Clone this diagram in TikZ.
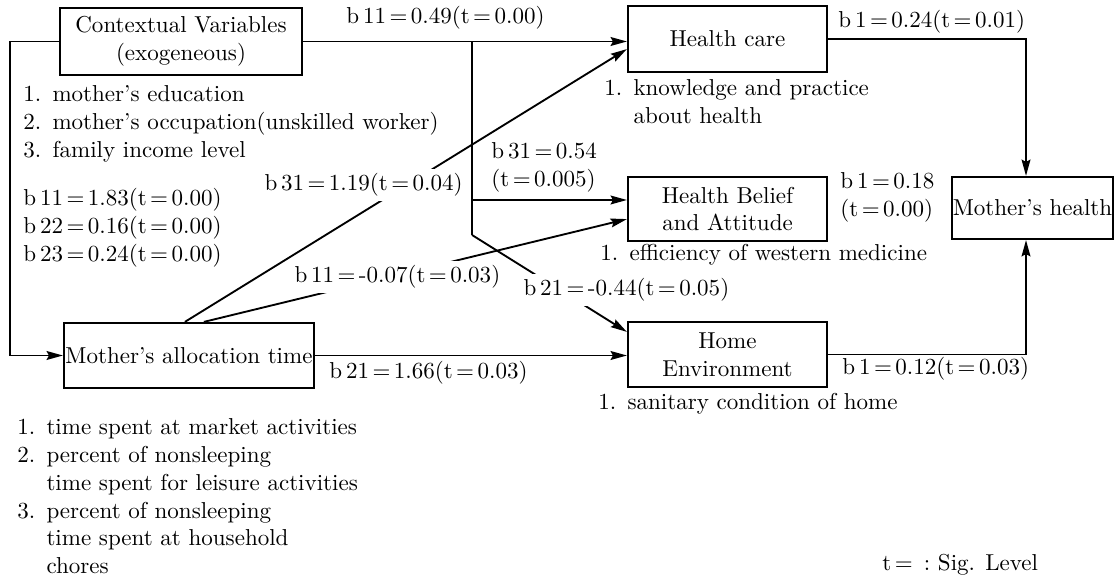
\documentclass[tikz,border=0pt]{standalone}
\usetikzlibrary{arrows.meta,calc}
\newcommand\eqs{\kern.15em=\kern.15em}
\newcommand\itemno[1]{\makebox[12.5pt][l]{#1.}}
\begin{document}
\begin{tikzpicture}[x=0.43pt,y=-0.43pt,
  every node/.style={font=\fontsize{9.9}{12}\selectfont},
  box/.style={draw, line width=0.95pt, align=center, inner sep=0pt},
  txt/.style={inner sep=0pt, anchor=west, align=left},
  wtxt/.style={fill=white, inner sep=2pt, anchor=west},
  conn/.style={line width=0.8pt},
  arr/.style={conn, -{Stealth[length=7pt,width=3.8pt,inset=1pt]}}]
\useasboundingbox (0,0) rectangle (1115,580);

% boxes
\node[box, minimum width=104.06pt, minimum height=28.81pt] (ctx) at (181,41.5) {Contextual Variables\\(exogeneous)};
\node[box, minimum width=85.57pt, minimum height=28.38pt] (hc) at (727.5,39) {Health care};
\node[box, minimum width=85.57pt, minimum height=27.52pt] (hb) at (727.5,209) {Health Belief\\and Attitude};
\node[box, minimum width=85.57pt, minimum height=27.95pt] (home) at (727.5,354.5) {Home\\Environment};
\node[box, minimum width=69.23pt, minimum height=26.66pt] (mh) at (1032.5,208) {Mother's health};
\node[box, minimum width=107.5pt, minimum height=27.95pt] (mat) at (189,355.5) {Mother's allocation time};

% junctions
\coordinate (j1) at (472,41.5);
\coordinate (j2) at (472,200);
\coordinate (j3) at (472,235);
\coordinate (lc) at (10,41.5);

% connectors
\draw[arr] (ctx.east) -- (hc.west |- ctx.east);
\draw[conn] (j1) -- (j3);
\draw[arr] (j2) -- (hb.west |- j2);
\draw[arr] (j3) -- ($(home.north west)+(0,11)$);
\draw[arr] (hc.east) -| ($(mh.north)+(-6.5,0)$);
\draw[arr] (home.east) -| ($(mh.south)+(-6.5,0)$);
\draw[arr] (ctx.west) -- (lc) |- (mat.west);
\draw[arr] (mat.east) -- (home.west |- mat.east);
\draw[arr] ($(mat.north west)+(122,0)$) -- ($(hc.south west)+(0,-24)$);
\draw[arr] ($(mat.north west)+(141,0)$) -- ($(hb.south west)+(0,-23)$);

% labels
\node[txt] (l1) at (346,18) {b\,11\eqs0.49(t\eqs0.00)};
\node[txt] (l2) at (838,22) {b\,1\eqs0.24(t\eqs0.01)};
\node[txt] (l3) at (604,103.5) {\begin{tabular}{@{}l@{\hspace{4.8pt}}l@{}}1. & knowledge and practice\\ & about health\end{tabular}};
\node[txt] (l4) at (491,167) {b\,31\eqs0.54\\(t\eqs0.005)};
\node[txt] (l5) at (840,197.5) {b\,1\eqs0.18\\(t\eqs0.00)};
\node[txt] (l6) at (600,255) {\itemno{1}efficiency of western medicine};
\node[wtxt] (l7) at (518.4,290) {b\,21\eqs-0.44(t\eqs0.05)};
\node[wtxt] (l8) at (289.4,277) {b\,11\eqs-0.07(t\eqs0.03)};
\node[wtxt] (l9) at (259.4,185) {b\,31\eqs1.19(t\eqs0.04)};
\node[txt] (l10) at (23,124) {\begin{tabular}{@{}l@{\hspace{4.8pt}}l@{}}1. & mother's education\\2. & mother's occupation(unskilled worker)\\3. & family income level\end{tabular}};
\node[txt] (l11) at (23,228) {b\,11\eqs1.83(t\eqs0.00)\\b\,22\eqs0.16(t\eqs0.00)\\b\,23\eqs0.24(t\eqs0.00)};
\node[txt] (l12) at (329,373) {b\,21\eqs1.66(t\eqs0.03)};
\node[txt] (l13) at (842,369) {b\,1\eqs0.12(t\eqs0.03)};
\node[txt] (l14) at (598,404) {\itemno{1}sanitary condition of home};
\node[txt] (l15) at (17,498.5) {\begin{tabular}{@{}l@{\hspace{4.8pt}}l@{}}1. & time spent at market activities\\2. & percent of nonsleeping\\ & time spent for leisure activities\\3. & percent of nonsleeping\\ & time spent at household\\ & chores\end{tabular}};
\node[txt] (l16) at (882,565) {t\eqs\ :\ Sig. Level};
\end{tikzpicture}
\end{document}
